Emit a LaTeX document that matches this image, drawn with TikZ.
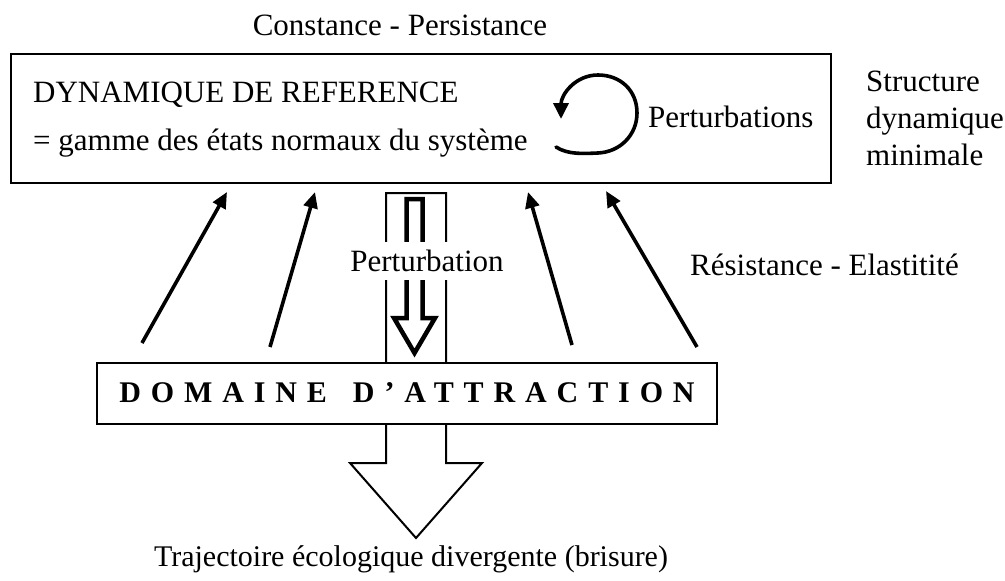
\documentclass[tikz,border=0pt]{standalone}
\usepackage{fontspec}
\setmainfont{Liberation Serif}
\usetikzlibrary{arrows.meta}
\begin{document}
\begin{tikzpicture}[x=1pt, y=-1pt,
  lbl/.style={font=\fontsize{31}{37}\selectfont, inner sep=0pt},
  frame/.style={draw, line width=2pt, fill=white, inner sep=0pt},
  blockarrow/.style={draw, line width=2pt, fill=white, line join=miter},
  hollowarrow/.style={draw, line width=4.5pt, fill=white, line join=miter},
  riser/.style={line width=3.6pt, -{Triangle[length=16pt, width=14pt]}},
  loopline/.style={line width=3.6pt, line cap=round, -{Triangle[length=16pt, width=15pt]}},
]
\useasboundingbox (0,0) rectangle (1005,581);

% reference dynamics frame
\node[frame, anchor=north west, minimum width=820pt, minimum height=129pt] (ref) at (10,53) {};

% wide outlined arrow leaving the attraction domain
\draw[blockarrow] (386,193) -- (446,193) -- (446,463) -- (482,463) -- (416,538)
  -- (350,463) -- (386,463) -- cycle;

% attraction domain box
\node[frame, anchor=north west, minimum width=620pt, minimum height=61pt] (dom) at (96,362) {};
\node[lbl, font=\fontsize{30}{36}\selectfont\bfseries, anchor=base] (domtxt) at (407,402)
  {\addfontfeature{LetterSpace=33}DOMAINE\hspace{26pt}D’ATTRACTION};

% perturbation arrow (thick outline)
\draw[hollowarrow] (406.5,199) -- (422.5,199) -- (422.5,318) -- (435,318) -- (414.5,353)
  -- (394,318) -- (406.5,318) -- cycle;
\node[lbl, fill=white, minimum height=38pt, inner xsep=1pt] (pert) at (427,261) {Perturbation};

% looping arrow inside the frame
\draw[loopline] (556,147) .. controls (568,155) and (585,153.5) .. (598,153)
  .. controls (620,152) and (637,135) .. (637,113)
  .. controls (637,90) and (620,75) .. (598,75)
  .. controls (575,75) and (561,95) .. (561,119);

% return arrows from the domain to the frame
\coordinate (a1s) at (142,343); \coordinate (a1e) at (227,192);
\coordinate (a2s) at (270,347); \coordinate (a2e) at (315,192);
\coordinate (a3s) at (572,345); \coordinate (a3e) at (528,192);
\coordinate (a4s) at (697,347); \coordinate (a4e) at (606,191);
\draw[riser] (a1s) -- (a1e);
\draw[riser] (a2s) -- (a2e);
\draw[riser] (a3s) -- (a3e);
\draw[riser] (a4s) -- (a4e);

% labels
\node[lbl, anchor=base] (cp) at (400,35) {Constance - Persistance};
\node[lbl, anchor=base west] (dyn) at (33,102) {DYNAMIQUE DE REFERENCE};
\node[lbl, anchor=base west] (gam) at (33,150) {= gamme des états normaux du système};
\node[lbl, anchor=base west] (perts) at (648,127) {Perturbations};
\node[lbl, anchor=base west] (st1) at (866,91) {Structure};
\node[lbl, anchor=base west] (st2) at (866,128) {dynamique};
\node[lbl, anchor=base west] (st3) at (866,165) {minimale};
\node[lbl, anchor=base west] (res) at (690,275) {Résistance - Elastitité};
\node[lbl, font=\fontsize{30}{36}\selectfont, anchor=base] (traj) at (411,566)
  {Trajectoire écologique divergente (brisure)};
\end{tikzpicture}
\end{document}
